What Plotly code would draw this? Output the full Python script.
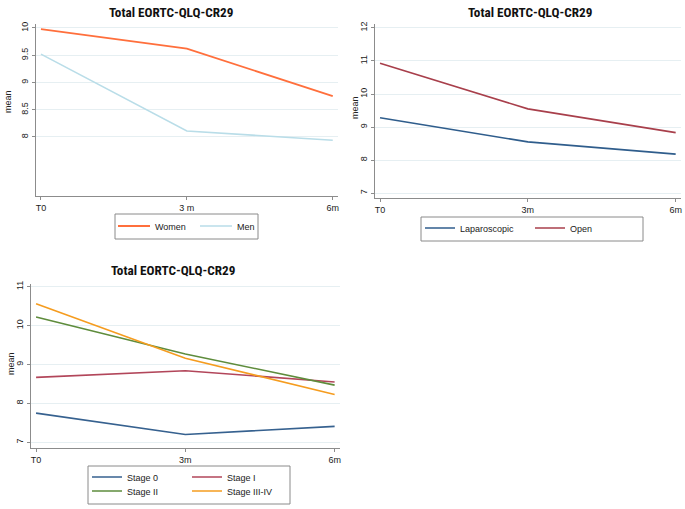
import plotly.graph_objects as go

W, H = 685, 509

# ---------------- data ----------------
time_sex = ["T0", "3 m", "6m"]
time_lbl = ["T0", "3m", "6m"]
women = [9.98, 9.62, 8.75]
men = [9.52, 8.11, 7.94]
laparoscopic = [9.28, 8.55, 8.18]
open_surgery = [10.93, 9.55, 8.83]
stage_0 = [7.75, 7.20, 7.41]
stage_i = [8.67, 8.84, 8.55]
stage_ii = [10.22, 9.27, 8.47]
stage_iii_iv = [10.56, 9.16, 8.23]
title_text = "Total EORTC-QLQ-CR29"
yticks_1 = [8, 8.5, 9, 9.5, 10]
yticks_2 = [7, 8, 9, 10, 11, 12]
yticks_3 = [7, 8, 9, 10, 11]

# ---------------- helpers ----------------
def px(x):
    return x / W

def py(y):
    return 1 - y / H

FONT = "Liberation Sans, Arial, sans-serif"
TFONT = "Liberation Sans Narrow, Arial Narrow, Roboto Condensed, Roboto, sans-serif"
AXC = "#8c8c8c"
GRIDC = "#e6eff2"

fig = go.Figure()

def add_line(x, y, name, color, width, xa, ya, leg):
    fig.add_trace(go.Scatter(x=x, y=y, mode="lines", name=name,
                             line=dict(color=color, width=width),
                             xaxis=xa, yaxis=ya, legend=leg, showlegend=True))

add_line(time_sex, women, "Women", "#ff6f3c", 1.8, "x", "y", "legend")
add_line(time_sex, men, "Men", "#b9dde8", 1.6, "x", "y", "legend2")
add_line(time_lbl, laparoscopic, "Laparoscopic", "#2f5d8c", 1.6, "x2", "y2", "legend3")
add_line(time_lbl, open_surgery, "Open", "#a83f4b", 1.6, "x2", "y2", "legend4")
add_line(time_lbl, stage_0, "Stage 0", "#36618f", 1.6, "x3", "y3", "legend5")
add_line(time_lbl, stage_i, "Stage I", "#b2465a", 1.6, "x3", "y3", "legend6")
add_line(time_lbl, stage_ii, "Stage II", "#5e8c3c", 1.6, "x3", "y3", "legend7")
add_line(time_lbl, stage_iii_iv, "Stage III-IV", "#f59c1f", 1.6, "x3", "y3", "legend8")

def xax(dom, ticktext):
    return dict(domain=[px(dom[0]), px(dom[1])], type="category",
                categoryorder="array", categoryarray=ticktext,
                range=[-0.034, 2.036], showline=True, linecolor=AXC, linewidth=1,
                ticks="outside", ticklen=3, tickcolor=AXC, showgrid=False,
                zeroline=False, tickfont=dict(family=FONT, size=9, color="#222"),
                ticklabeloverflow="allow", fixedrange=True)

def yax(dom, rng, tv, xanchor):
    return dict(domain=[py(dom[1]), py(dom[0])], range=rng, tickvals=tv,
                ticktext=[("%g" % v) for v in tv], tickangle=-90,
                showline=True, linecolor=AXC, linewidth=1, ticks="outside",
                ticklen=3, tickcolor=AXC, showgrid=True, gridcolor=GRIDC,
                gridwidth=1, zeroline=False, anchor=xanchor,
                ticklabeloverflow="allow",
                tickfont=dict(family=FONT, size=9, color="#222"), fixedrange=True)

layout = dict(
    width=W, height=H, margin=dict(l=0, r=0, t=0, b=0, autoexpand=False),
    paper_bgcolor="white", plot_bgcolor="white",
    xaxis=dict(xax((36, 338), time_sex), anchor="y"),
    yaxis=yax((24, 196), [6.917, 10.073], yticks_1, "x"),
    xaxis2=dict(xax((375, 681), time_lbl), anchor="y2"),
    yaxis2=yax((24, 198), [6.85, 12.12], yticks_2, "x2"),
    xaxis3=dict(xax((31, 340), time_lbl), anchor="y3"),
    yaxis3=yax((284, 448), [6.853, 11.07], yticks_3, "x3"),
)

def leg(xs, yc, iw=30):
    return dict(x=px(xs - 5), xanchor="left", y=py(yc), yanchor="middle",
                orientation="v", bgcolor="rgba(0,0,0,0)", borderwidth=0,
                itemwidth=iw, font=dict(family=FONT, size=9, color="#222"),
                itemclick=False, itemdoubleclick=False)

layout["legend"] = leg(118, 226, 32)
layout["legend2"] = leg(200, 226, 32)
layout["legend3"] = leg(425, 228)
layout["legend4"] = leg(535, 228)
layout["legend5"] = leg(92, 477)
layout["legend6"] = leg(192, 477)
layout["legend7"] = leg(92, 491)
layout["legend8"] = leg(192, 491)

fig.update_layout(**layout)

# legend frames
for (x0, y0, x1, y1) in [(115, 214, 258, 239), (421, 217, 643, 241), (88, 466, 290, 504)]:
    fig.add_shape(type="rect", xref="paper", yref="paper",
                  x0=px(x0), x1=px(x1), y0=py(y1), y1=py(y0),
                  line=dict(color="#8a8a8a", width=1), fillcolor="rgba(0,0,0,0)")

# titles
for (cx, cy) in [(171, 12), (530, 12), (173, 270)]:
    fig.add_annotation(text="<b>" + title_text + "</b>", xref="paper", yref="paper",
                       x=px(cx), y=py(cy), xanchor="center", yanchor="middle",
                       showarrow=False, font=dict(family=TFONT, size=13.2, color="#111"))

# y-axis titles
for (cx, cy) in [(8, 101), (355, 108), (11, 364)]:
    fig.add_annotation(text="mean", xref="paper", yref="paper", x=px(cx), y=py(cy),
                       xanchor="center", yanchor="middle", textangle=-90,
                       showarrow=False, font=dict(family=FONT, size=9, color="#222"))

fig.write_html("out.html", config={"displayModeBar": False},
               post_script="document.body.style.margin='0';document.body.style.overflow='hidden';")
